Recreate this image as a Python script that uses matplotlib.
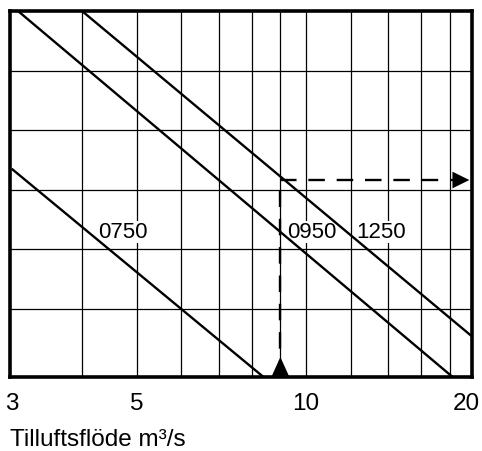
import matplotlib
matplotlib.use("Agg")
import matplotlib.pyplot as plt
from matplotlib.transforms import blended_transform_factory

plt.rcParams['font.family'] = ['Liberation Sans', 'DejaVu Sans']

# Data
xlim = (2.98, 19.7)
ylim = (-0.15, 6.0)
x_grid = [4, 5, 6, 7, 8, 9, 10, 12, 14, 16, 18]
y_grid = [1, 2, 3, 4, 5]
x_tick_values = [3, 5, 10, 20]
x_tick_labels = ["3", "5", "10", "20"]

series_names = ["0750", "0950", "1250"]
series_x = [[3.0, 8.4], [3.0, 18.2], [4.0, 20.0]]
series_y = [[3.35, -0.15], [6.09, -0.15], [6.0, 0.48]]
label_pos_x = [4.73, 10.24, 13.58]
label_pos_y = [2.29, 2.29, 2.29]

example_x = 9.0
example_y = 3.16

xlabel = "Tilluftsflöde m³/s"

W, H = 482, 452
fig = plt.figure(figsize=(W / 100, H / 100), dpi=100)
ax = fig.add_axes([10 / W, (H - 378) / H, 462 / W, 366 / H])
ax.set_xscale('log')
ax.set_xlim(*xlim)
ax.set_ylim(*ylim)

for xv in x_grid:
    ax.axvline(xv, color='black', lw=0.9, zorder=1)
for yv in y_grid:
    ax.axhline(yv, color='black', lw=0.9, zorder=1)

for xs, ys in zip(series_x, series_y):
    ax.plot(xs, ys, color='black', lw=1.7, zorder=5, solid_capstyle='butt')

for name, lx, ly in zip(series_names, label_pos_x, label_pos_y):
    ax.text(lx, ly, name, fontsize=16, ha='center', va='center', zorder=4,
            bbox=dict(facecolor='white', edgecolor='none', pad=0.3))

# example path (dashed)
ax.plot([example_x, example_x], [ylim[0], example_y], color='black', lw=1.7,
        ls=(0, (7, 5)), zorder=5)
ax.plot([example_x, 18.2], [example_y, example_y], color='black', lw=1.7,
        ls=(0, (7, 5)), zorder=5)
# arrowheads
ax.annotate('', xy=(example_x, 0.186), xytext=(example_x, ylim[0]),
            arrowprops=dict(arrowstyle='-|>,head_length=1.44,head_width=0.65',
                            color='black', lw=0, shrinkA=0, shrinkB=0),
            zorder=6)
ax.annotate('', xy=(19.49, example_y), xytext=(18.15, example_y),
            arrowprops=dict(arrowstyle='-|>,head_length=1.22,head_width=0.6',
                            color='black', lw=0, shrinkA=0, shrinkB=0),
            zorder=6)

ax.set_xticks([])
ax.set_yticks([])
ax.xaxis.set_minor_locator(matplotlib.ticker.NullLocator())
for sp in ax.spines.values():
    sp.set_linewidth(2.6)
    sp.set_zorder(7)

trans = blended_transform_factory(ax.transData, ax.transAxes)
for xv, lab in zip(x_tick_values[:-1], x_tick_labels[:-1]):
    ax.annotate(lab, xy=(xv, 0), xycoords=trans, xytext=(0, -11),
                textcoords='offset points', ha='center', va='top',
                fontsize=17.5, annotation_clip=False)
# last tick label sits at the right edge of the frame
ax.annotate(x_tick_labels[-1], xy=(1, 0), xycoords='axes fraction',
            xytext=(6, -11), textcoords='offset points', ha='right', va='top',
            fontsize=17.5, annotation_clip=False)

fig.text(10 / W, 1 - 446 / H, xlabel, fontsize=17.5, ha='left', va='baseline')

fig.savefig('out.png', dpi=100)
